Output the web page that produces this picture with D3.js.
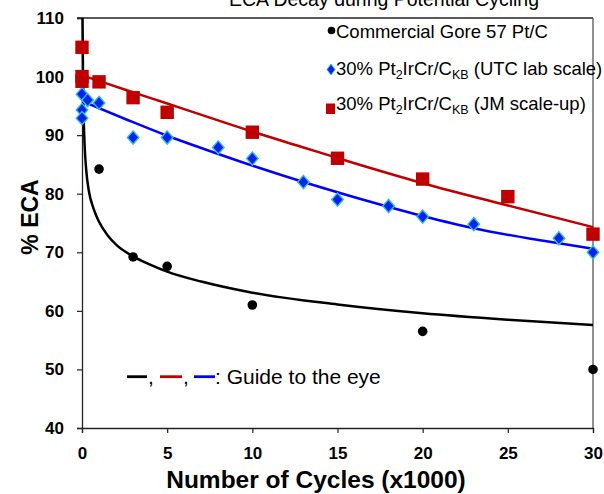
<!DOCTYPE html>
<html>
<head>
<meta charset="utf-8">
<script src="https://cdn.jsdelivr.net/npm/d3@7"></script>
<style>
  html, body { margin: 0; padding: 0; background: #fff; }
  svg { display: block; font-family: "Liberation Sans", Arial, sans-serif; }
</style>
</head>
<body>
<svg id="chart" width="604" height="494"></svg>
<script>
// Cycles in thousands, electrochemical area in %
const goreCycles = [0, 1, 3, 5, 10, 20, 30];
const goreECA    = [100, 84.2, 69.2, 67.6, 61, 56.5, 50];

const utcCycles = [0, 0.33, 1, 0, 0, 3, 5, 8, 10, 13, 15, 18, 20, 23, 28, 30];
const utcECA    = [97, 96, 95.5, 94.3, 92.9, 89.6, 89.6, 87.9, 86, 82, 79, 77.9, 76.1, 74.8, 72.4, 70];

const jmCycles = [0, 0, 0, 1, 3, 5, 10, 15, 20, 25, 30];
const jmECA    = [105, 100, 99.2, 99.1, 96.4, 93.9, 90.5, 86.05, 82.5, 79.5, 73.1];

// Guide-to-the-eye curves
const goreGuideX = [0.03, 0.06, 0.1, 0.15, 0.25, 0.4, 0.7, 1.0, 1.5, 2.0, 3.0, 4.0, 5.0, 7.0, 10, 15, 20, 25, 30];
const goreGuideY = [110, 100, 93, 88.5, 84, 80.5, 77.3, 75.2, 72.9, 71.3, 69.3, 67.9, 66.7, 65, 63.1, 61.1, 59.6, 58.5, 57.6];
const utcGuideX = [0, 2.5, 5, 7.5, 10, 13, 16, 20, 23, 27, 30];
const utcGuideY = [95.8, 92.8, 89.9, 87.3, 84.8, 82.0, 79.4, 76.2, 74.1, 72.0, 70.6];
const jmGuideX = [0, 2.5, 5, 7.5, 10, 13, 16, 20, 25, 30];
const jmGuideY = [100.2, 97.8, 95.4, 93.0, 90.6, 87.9, 85.2, 81.8, 78.0, 74.3];

const xTicks = [0, 5, 10, 15, 20, 25, 30];
const yTicks = [40, 50, 60, 70, 80, 90, 100, 110];

const titleText = "ECA Decay during Potential Cycling";
const xLabel = "Number of Cycles (x1000)";
const yLabel = "% ECA";

const svg = d3.select("#chart");
const plotLeft = 82, plotRight = 593, plotTop = 18, plotBottom = 428;

const x = d3.scaleLinear().domain([0, 30]).range([plotLeft, plotRight]);
const y = d3.scaleLinear().domain([40, 110]).range([plotBottom, plotTop]);

const zip = (xs, ys) => xs.map((v, i) => [v, ys[i]]);

// Title (partly above the page edge)
svg.append("text")
  .attr("x", 539).attr("y", 6)
  .attr("text-anchor", "end")
  .attr("font-size", 19.5)
  .text(titleText);

// Frame: top and right edges
svg.append("line").attr("x1", plotLeft - 5).attr("x2", plotRight).attr("y1", plotTop).attr("y2", plotTop)
  .attr("stroke", "#222").attr("stroke-width", 1.3);
svg.append("line").attr("x1", plotRight).attr("x2", plotRight).attr("y1", plotTop).attr("y2", plotBottom)
  .attr("stroke", "#555").attr("stroke-width", 1.3);

// Axes
const yAxis = svg.append("g")
  .attr("transform", `translate(${plotLeft},0)`)
  .call(d3.axisLeft(y).tickValues(yTicks).tickSize(5).tickPadding(13).tickFormat(d3.format("d")));
const xAxis = svg.append("g")
  .attr("transform", `translate(0,${plotBottom})`)
  .call(d3.axisBottom(x).tickValues(xTicks).tickSize(5).tickPadding(14).tickFormat(d3.format("d")));

[yAxis, xAxis].forEach(g => {
  g.select(".domain").attr("stroke", "#222").attr("stroke-width", 1.3);
  g.selectAll(".tick line").attr("stroke", "#222").attr("stroke-width", 1.2);
  g.selectAll(".tick text")
    .attr("fill", "#000")
    .attr("font-size", 17)
    .attr("font-weight", "bold")
    .attr("font-family", "'Liberation Sans', Arial, sans-serif");
});

// Axis titles
svg.append("text")
  .attr("x", 316).attr("y", 488)
  .attr("text-anchor", "middle")
  .attr("font-size", 24.5).attr("font-weight", "bold")
  .text(xLabel);
svg.append("text")
  .attr("transform", "translate(38,217) rotate(-90)")
  .attr("text-anchor", "middle")
  .attr("font-size", 23).attr("font-weight", "bold")
  .text(yLabel);

// Guide curves
const line = d3.line().x(d => x(d[0])).y(d => y(d[1])).curve(d3.curveMonotoneX);
const plot = svg.append("g");
plot.append("path").datum(zip(goreGuideX, goreGuideY))
  .attr("d", line).attr("fill", "none").attr("stroke", "#000").attr("stroke-width", 2.5);
plot.append("path").datum(zip(utcGuideX, utcGuideY))
  .attr("d", line).attr("fill", "none").attr("stroke", "#0000ff").attr("stroke-width", 2.5);
plot.append("path").datum(zip(jmGuideX, jmGuideY))
  .attr("d", line).attr("fill", "none").attr("stroke", "#c00000").attr("stroke-width", 2.5);

// Marker shapes
const diamond = (cx, cy, hw, hh) => `M${cx},${cy - hh}L${cx + hw},${cy}L${cx},${cy + hh}L${cx - hw},${cy}Z`;

plot.selectAll(".gore").data(zip(goreCycles, goreECA)).enter().append("circle")
  .attr("cx", d => x(d[0])).attr("cy", d => y(d[1])).attr("r", 4.8).attr("fill", "#000");

plot.selectAll(".utc").data(zip(utcCycles, utcECA)).enter().append("path")
  .attr("d", d => diamond(x(d[0]), y(d[1]), 5.8, 6.6))
  .attr("fill", "#0022ee").attr("stroke", "#33bbdd").attr("stroke-width", 1.4);

plot.selectAll(".jm").data(zip(jmCycles, jmECA)).enter().append("rect")
  .attr("x", d => x(d[0]) - 6.7).attr("y", d => y(d[1]) - 6.7)
  .attr("width", 13.4).attr("height", 13.4).attr("fill", "#c00000");

// Series legend
const lg = svg.append("g").attr("font-size", 18.5);
lg.append("circle").attr("cx", 331.5).attr("cy", 30.5).attr("r", 3.8).attr("fill", "#000");
lg.append("text").attr("x", 336).attr("y", 37.5).text("Commercial Gore 57 Pt/C");

lg.append("path").attr("d", diamond(331, 69.5, 4, 5.5))
  .attr("fill", "#0022ee").attr("stroke", "#33bbdd").attr("stroke-width", 1);
const t2 = lg.append("text").attr("x", 336).attr("y", 75);
t2.append("tspan").text("30% Pt");
t2.append("tspan").attr("font-size", 12.5).attr("dy", 4).text("2");
t2.append("tspan").attr("dy", -4).text("IrCr/C");
t2.append("tspan").attr("font-size", 12.5).attr("dy", 4).text("KB");
t2.append("tspan").attr("dy", -4).text(" (UTC lab scale)");

lg.append("rect").attr("x", 326).attr("y", 103.5).attr("width", 9).attr("height", 10.5).attr("fill", "#c00000");
const t3 = lg.append("text").attr("x", 336).attr("y", 110);
t3.append("tspan").text("30% Pt");
t3.append("tspan").attr("font-size", 12.5).attr("dy", 4).text("2");
t3.append("tspan").attr("dy", -4).text("IrCr/C");
t3.append("tspan").attr("font-size", 12.5).attr("dy", 4).text("KB");
t3.append("tspan").attr("dy", -4).text(" (JM scale-up)");

// Guide legend
const gl = svg.append("g").attr("font-size", 21);
const gy = 376.7;
[["#000", 127, 147], ["#c00000", 160, 182], ["#0000ff", 194, 215]].forEach(([c, a, b]) => {
  gl.append("line").attr("x1", a).attr("x2", b).attr("y1", gy).attr("y2", gy)
    .attr("stroke", c).attr("stroke-width", 2.8);
});
gl.append("text").attr("x", 148).attr("y", 384).text(",");
gl.append("text").attr("x", 183).attr("y", 384).text(",");
gl.append("text").attr("x", 215).attr("y", 384).text(": Guide to the eye");
</script>
</body>
</html>
